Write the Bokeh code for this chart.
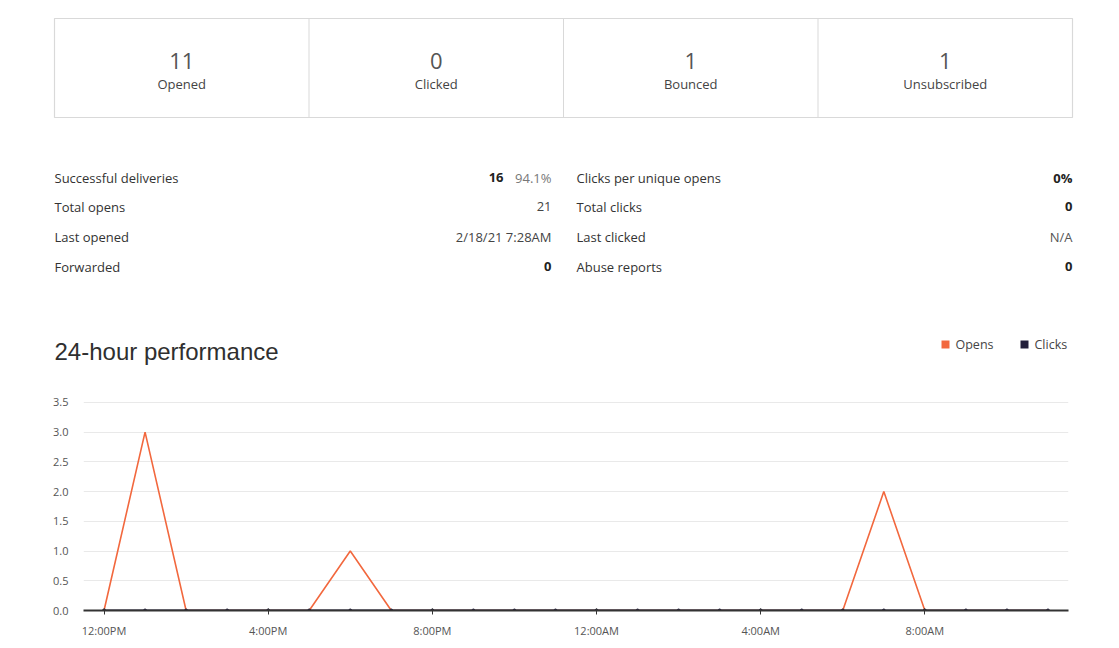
from bokeh.plotting import figure
from bokeh.models import Range1d, FixedTicker, NumeralTickFormatter
from bokeh.embed import file_html
from bokeh.resources import INLINE
from bokeh.core.properties import value

# ---------------- data ----------------
card_values = ["11", "0", "1", "1"]
card_labels = ["Opened", "Clicked", "Bounced", "Unsubscribed"]

left_stat_labels = ["Successful deliveries", "Total opens", "Last opened", "Forwarded"]
left_stat_values = ["16", "21", "2/18/21 7:28AM", "0"]
left_stat_extra = ["94.1%", "", "", ""]
right_stat_labels = ["Clicks per unique opens", "Total clicks", "Last clicked", "Abuse reports"]
right_stat_values = ["0%", "0", "N/A", "0"]

hours = list(range(24))
hour_labels = ["12:00PM", "1:00PM", "2:00PM", "3:00PM", "4:00PM", "5:00PM", "6:00PM", "7:00PM",
               "8:00PM", "9:00PM", "10:00PM", "11:00PM", "12:00AM", "1:00AM", "2:00AM", "3:00AM",
               "4:00AM", "5:00AM", "6:00AM", "7:00AM", "8:00AM", "9:00AM", "10:00AM", "11:00AM"]
opens = [0, 3, 0, 0, 0, 0, 1, 0, 0, 0, 0, 0, 0, 0, 0, 0, 0, 0, 0, 2, 0, 0, 0, 0]
clicks = [0] * 24

OPEN_C = "#F2683E"
CLICK_C = "#221E3A"
FONT = "Open Sans"
FS = "13px"

# ---------------- top panel (cards, stats, title, legend) ----------------
W = 1103
TOP_H = 390
top = figure(width=W, height=TOP_H, x_range=Range1d(0, W), y_range=Range1d(TOP_H, 0),
             x_axis_type=None, y_axis_type=None, toolbar_location=None,
             output_backend="svg", min_border=0)
top.grid.visible = False
top.outline_line_color = None

cl, cr, ct, cb = 54, 1072, 18, 117
top.quad(left=[cl], right=[cr], top=[ct], bottom=[cb], fill_color="white",
         line_color="#d9d9d9", line_width=1.2)
cw = (cr - cl) / len(card_values)
for i in range(1, len(card_values)):
    top.segment(x0=[cl + i * cw], y0=[ct], x1=[cl + i * cw], y1=[cb], line_color="#d9d9d9")
cx = [cl + cw * (i + 0.5) for i in range(len(card_values))]
top.text(x=cx, y=[60] * 4, text=card_values, text_align="center", text_baseline="middle",
         text_font=value(FONT), text_font_size="22px", text_color="#555555")
top.text(x=cx, y=[83] * 4, text=card_labels, text_align="center", text_baseline="middle",
         text_font=value(FONT), text_font_size=FS, text_color="#444444")

rows_y = [177, 206, 236, 266]
top.text(x=[54] * 4, y=rows_y, text=left_stat_labels, text_baseline="middle",
         text_font=value(FONT), text_font_size=FS, text_color="#333333")
top.text(x=[576] * 4, y=rows_y, text=right_stat_labels, text_baseline="middle",
         text_font=value(FONT), text_font_size=FS, text_color="#333333")

# left values
top.text(x=[503], y=[rows_y[0]], text=[left_stat_values[0]], text_align="right",
         text_baseline="middle", text_font=value(FONT), text_font_size=FS,
         text_font_style="bold", text_color="#222222")
top.text(x=[551], y=[rows_y[0]], text=[left_stat_extra[0]], text_align="right",
         text_baseline="middle", text_font=value(FONT), text_font_size=FS, text_color="#777777")
top.text(x=[551, 551], y=rows_y[1:3], text=left_stat_values[1:3], text_align="right",
         text_baseline="middle", text_font=value(FONT), text_font_size=FS, text_color="#444444")
top.text(x=[551], y=[rows_y[3]], text=[left_stat_values[3]], text_align="right",
         text_baseline="middle", text_font=value(FONT), text_font_size=FS,
         text_font_style="bold", text_color="#222222")
# right values
bold_idx = [0, 1, 3]
top.text(x=[1072] * 3, y=[rows_y[i] for i in bold_idx], text=[right_stat_values[i] for i in bold_idx],
         text_align="right", text_baseline="middle", text_font=value(FONT), text_font_size=FS,
         text_font_style="bold", text_color="#222222")
top.text(x=[1072], y=[rows_y[2]], text=[right_stat_values[2]], text_align="right",
         text_baseline="middle", text_font=value(FONT), text_font_size=FS, text_color="#555555")

# title
top.text(x=[54], y=[351], text=["24-hour performance"], text_baseline="middle",
         text_font=value("Liberation Sans"), text_font_size="24px", text_color="#2f2f2f")
# legend
top.scatter(x=[945, 1024], y=[344, 344], marker="square", size=8,
            color=[OPEN_C, CLICK_C], line_color=None)
top.text(x=[955, 1034], y=[344, 344], text=["Opens", "Clicks"], text_baseline="middle",
         text_font=value(FONT), text_font_size="12.5px", text_color="#444444")

# ---------------- chart ----------------
ch = figure(width=W, height=250, x_range=Range1d(-0.5, 23.5), y_range=Range1d(0, 3.7),
            toolbar_location=None, output_backend="svg",
            min_border_left=83, min_border_right=35, min_border_top=0, min_border_bottom=29)
ch.outline_line_color = None
ch.xgrid.visible = False
ch.ygrid.grid_line_color = "#e9e9e9"
ch.ygrid.ticker = FixedTicker(ticks=[0.5, 1, 1.5, 2, 2.5, 3, 3.5])

ch.yaxis.ticker = FixedTicker(ticks=[0, 0.5, 1, 1.5, 2, 2.5, 3, 3.5])
ch.yaxis.formatter = NumeralTickFormatter(format="0.0")
ch.yaxis.axis_line_color = None
ch.yaxis.major_tick_line_color = None
ch.yaxis.minor_tick_line_color = None
ch.yaxis.major_label_text_font = FONT
ch.yaxis.major_label_text_font_size = "11px"
ch.yaxis.major_label_text_color = "#555555"
ch.yaxis.major_label_standoff = 9

tick_pos = hours[::4]
ch.xaxis.ticker = FixedTicker(ticks=tick_pos)
ch.xaxis.major_label_overrides = {h: hour_labels[h] for h in tick_pos}
ch.xaxis.axis_line_color = "#333333"
ch.xaxis.axis_line_width = 2
ch.xaxis.major_tick_line_color = "#333333"
ch.xaxis.major_tick_in = 2
ch.xaxis.major_tick_out = 4
ch.xaxis.minor_tick_line_color = None
ch.xaxis.major_label_text_font = FONT
ch.xaxis.major_label_text_font_size = "11px"
ch.xaxis.major_label_text_color = "#555555"
ch.xaxis.major_label_standoff = 8

ch.line(hours, opens, line_color=OPEN_C, line_width=1.6)
ch.line(hours, clicks, line_color=CLICK_C, line_width=2)
ch.scatter(hours, clicks, size=3, color=CLICK_C)

open("out.html", "w").write(file_html([top, ch], INLINE))
